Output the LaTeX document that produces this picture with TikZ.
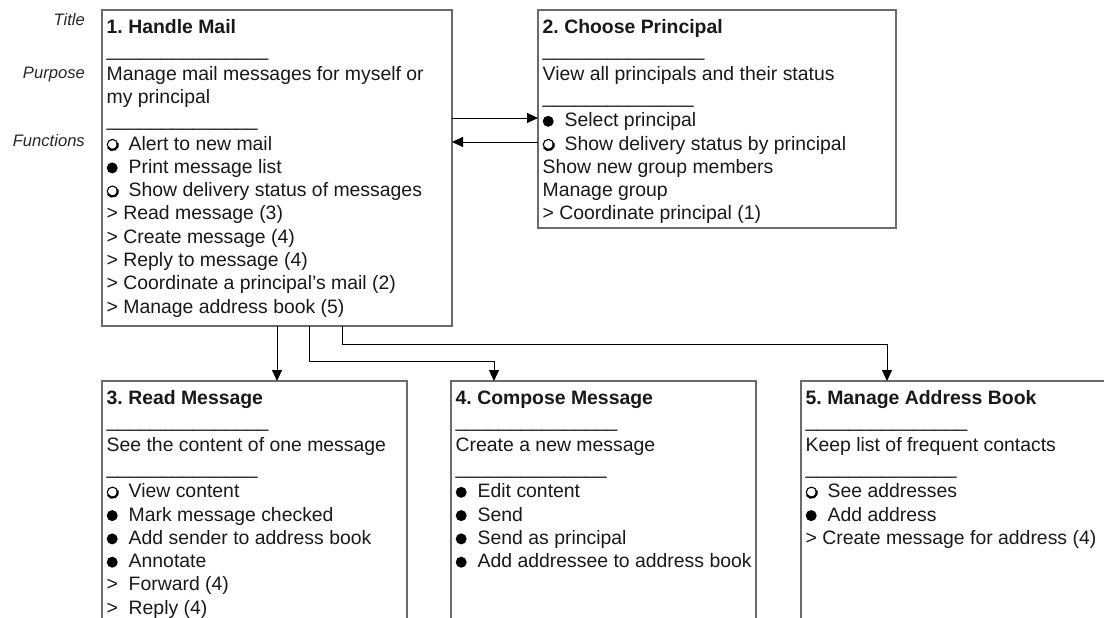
\documentclass[tikz,border=0pt]{standalone}
\usepackage{fontspec}
\setmainfont{Liberation Sans}
\usetikzlibrary{arrows.meta,calc}
\frenchspacing
\newcommand{\fbul}{\makebox[22pt][l]{\tikz[baseline=0pt]\fill[black] (5.5pt,5.4pt) circle (5.5pt);}}
\newcommand{\obul}{\makebox[22pt][l]{\tikz[baseline=0pt]{\draw[line width=1.1pt,black] (6pt,5.4pt) circle (5.2pt); \draw[line width=2.2pt,black] (6pt,5.4pt) ++(-150:5.4pt) arc[start angle=-150,end angle=20,radius=5.4pt];}}}
\newcommand{\tgt}{\makebox[22pt][l]{>}}
\newcommand{\ulong}{\_\_\_\_\_\_\_\_\_\_\_\_\_\_\_}
\newcommand{\ushort}{\_\_\_\_\_\_\_\_\_\_\_\_\_\_}
\newcommand{\fst}{\rule{0pt}{15pt}}
\tikzset{
 boxline/.style={draw=black!58, line width=1.3pt},
 box/.style={rectangle, boxline, outer sep=0pt, inner sep=0pt, anchor=north west},
 obox/.style={rectangle, draw=none, outer sep=0pt, inner sep=0pt, anchor=north west},
 txt/.style={anchor=north west, inner sep=0pt, align=left, font=\fontsize{19.4}{23.3}\selectfont\frenchspacing, text=black!90},
 lab/.style={anchor=base east, inner sep=0pt, font=\fontsize{16.6}{20}\selectfont\itshape, text=black!85},
 arr/.style={-{Triangle[length=11pt,width=10pt]}, line width=1pt, black},
}
\begin{document}
\begin{tikzpicture}[x=1pt,y=-1pt]
\useasboundingbox (0,0) rectangle (1104,618);
\clip (0,0) rectangle (1104,618);
\fill[white] (0,0) rectangle (1104,618);

% side labels
\node[lab] (lt) at (85,26) {Title};
\node[lab] (lp) at (85,78) {Purpose};
\node[lab] (lf) at (85,146.5) {Functions};

% boxes
\node[box, minimum width=350pt, minimum height=316pt] (b1) at (102,10) {};
\node[box, minimum width=358pt, minimum height=218pt] (b2) at (538,10) {};
\node[obox, minimum width=305pt, minimum height=260pt] (b3) at (102,381) {};
\node[obox, minimum width=305pt, minimum height=260pt] (b4) at (451,381) {};
\node[obox, minimum width=340pt, minimum height=260pt] (b5) at (801,381) {};
\draw[boxline] (b3.south west) -- (b3.north west) -- (b3.north east) -- (b3.south east);
\draw[boxline] (b4.south west) -- (b4.north west) -- (b4.north east) -- (b4.south east);
\draw[boxline] (b5.south west) -- (b5.north west) -- (b5.north east) -- (b5.south east);

% texts
\node[txt] (t1) at ($(b1.north west)+(4.5,8.3)$) {\fst\textbf{1. Handle Mail}\\
\ulong\\
Manage mail messages for myself or\\
my principal\\
\ushort\\
\obul Alert to new mail\\
\fbul Print message list\\
\obul Show delivery status of messages\\
> Read message (3)\\
> Create message (4)\\
> Reply to message (4)\\
> Coordinate a principal’s mail (2)\\
> Manage address book (5)};

\node[txt] (t2) at ($(b2.north west)+(4.5,8.3)$) {\fst\textbf{2. Choose Principal}\\
\ulong\\
View all principals and their status\\
\ushort\\
\fbul Select principal\\
\obul Show delivery status by principal\\
Show new group members\\
Manage group\\
> Coordinate principal (1)};

\node[txt] (t3) at ($(b3.north west)+(4.5,8.3)$) {\fst\textbf{3. Read Message}\\
\ulong\\
See the content of one message\\
\ushort\\
\obul View content\\
\fbul Mark message checked\\
\fbul Add sender to address book\\
\fbul Annotate\\
\tgt Forward (4)\\
\tgt Reply (4)};

\node[txt] (t4) at ($(b4.north west)+(4.5,8.3)$) {\fst\textbf{4. Compose Message}\\
\ulong\\
Create a new message\\
\ushort\\
\fbul Edit content\\
\fbul Send\\
\fbul Send as principal\\
\fbul Add addressee to address book};

\node[txt] (t5) at ($(b5.north west)+(4.5,8.3)$) {\fst\textbf{5. Manage Address Book}\\
\ulong\\
Keep list of frequent contacts\\
\ushort\\
\obul See addresses\\
\fbul Add address\\
> Create message for address (4)};

% connectors
\coordinate (h1) at (0,118);
\coordinate (h2) at (0,142);
\draw[arr] (b1.east |- h1) -- (b2.west |- h1);
\draw[arr] (b2.west |- h2) -- (b1.east |- h2);
\coordinate (v3) at (277,0);
\draw[arr] (b1.south -| v3) -- (b3.north -| v3);
\coordinate (v4) at (309,361);
\coordinate (e4) at (494,0);
\draw[arr] (b1.south -| v4) |- (e4 |- v4) -- (b4.north -| e4);
\coordinate (v5) at (342,344);
\coordinate (e5) at (887,0);
\draw[arr] (b1.south -| v5) |- (e5 |- v5) -- (b5.north -| e5);
\end{tikzpicture}
\end{document}
